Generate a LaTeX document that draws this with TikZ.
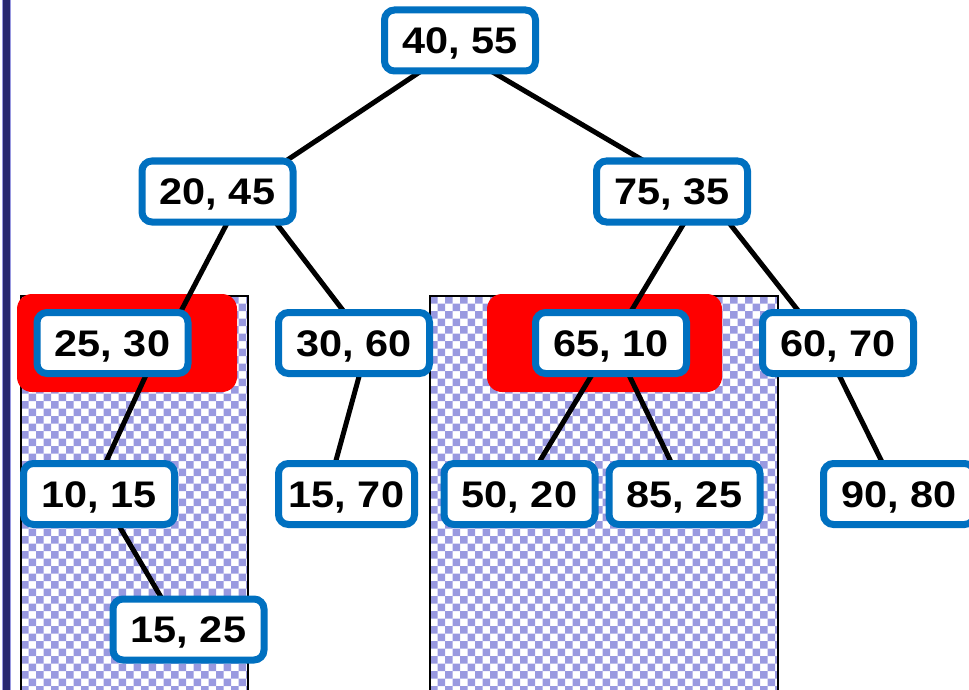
\documentclass[tikz,border=0pt]{standalone}
\usepackage{fontspec}
\newfontfamily\nodefont[FakeStretch=1.12]{Liberation Sans}
\definecolor{boxblue}{RGB}{0,112,192}
\definecolor{lav}{RGB}{153,153,224}
\definecolor{navy}{RGB}{40,40,112}
\pgfdeclarelayer{bg}
\pgfdeclarelayer{edgelayer}
\pgfsetlayers{bg,edgelayer,main}
\tikzset{
  kd/.style={draw=boxblue, line width=7, fill=white, rounded corners=10,
    minimum width=151, minimum height=61, inner sep=0,
    font=\nodefont\bfseries\fontsize{37}{42}\selectfont, text height=26.5, text depth=0},
  edge/.style={line width=5, black},
  hl/.style={fill=red, rounded corners=15},
  region/.style={draw=black, line width=1.8}
}
\begin{document}
\begin{tikzpicture}[x=1pt,y=-1pt]
\useasboundingbox (0,0) rectangle (969,690);
% left bar
\fill[navy, draw=lav, line width=1] (2.5,-5) rectangle (10,700);
% nodes
\node[kd] (n4055) at (460,40.5) {40, 55};
\node[kd] (n2045) at (217.5,191.5) {20, 45};
\node[kd] (n7535) at (672,191.5) {75, 35};
\node[kd] (n2530) at (112.5,343) {25, 30};
\node[kd] (n3060) at (354,343) {30, 60};
\node[kd] (n6510) at (611,343) {65, 10};
\node[kd] (n6070) at (838,343) {60, 70};
\node[kd] (n1015) at (99,494) {10, 15};
\node[kd, minimum width=136] (n1570) at (346.5,494) {15, 70};
\node[kd] (n5020) at (519.5,494) {50, 20};
\node[kd] (n8525) at (684.5,494) {85, 25};
\node[kd] (n9080) at (899,494) {90, 80};
\node[kd] (n1525) at (188.5,629.5) {15, 25};
% checker regions and highlights
\begin{pgfonlayer}{bg}
  \begin{scope}
    \clip (21,296) rectangle (248,700);
    \foreach \j in {0,...,54} {
      \pgfmathsetmacro\off{mod(\j,2)*7.5}
      \fill[lav] \foreach \i in {0,...,16} {(21+\off+15*\i,296+7.5*\j) rectangle ++(7.5,7.5)};
    }
  \end{scope}
  \draw[region] (21,296) rectangle (248,700);
  \begin{scope}
    \clip (430,296) rectangle (778,700);
    \foreach \j in {0,...,54} {
      \pgfmathsetmacro\off{mod(\j,2)*7.5}
      \fill[lav] \foreach \i in {0,...,24} {(430+\off+15*\i,296+7.5*\j) rectangle ++(7.5,7.5)};
    }
  \end{scope}
  \draw[region] (430,296) rectangle (778,700);
  \fill[hl] (17,294) rectangle (237,392);
  \fill[hl] (487,294) rectangle (722,392);
\end{pgfonlayer}
% edges
\begin{pgfonlayer}{edgelayer}
  \draw[edge] ([shift={(-38,30)}]n4055.center) -- ([shift={(67.5,-30)}]n2045.center);
  \draw[edge] ([shift={(30,30)}]n4055.center) -- ([shift={(-27,-30)}]n7535.center);
  \draw[edge] ([shift={(10.5,30)}]n2045.center) -- ([shift={(67.5,-30)}]n2530.center);
  \draw[edge] ([shift={(57.5,30)}]n2045.center) -- ([shift={(-9,-30)}]n3060.center);
  \draw[edge] ([shift={(13,30)}]n7535.center) -- ([shift={(19,-30)}]n6510.center);
  \draw[edge] ([shift={(56,30)}]n7535.center) -- ([shift={(-38,-30)}]n6070.center);
  \draw[edge] ([shift={(34.5,30)}]n2530.center) -- ([shift={(6,-30)}]n1015.center);
  \draw[edge] ([shift={(6,30)}]n3060.center) -- ([shift={(-11.5,-30)}]n1570.center);
  \draw[edge] ([shift={(-18,30)}]n6510.center) -- ([shift={(18.5,-30)}]n5020.center);
  \draw[edge] ([shift={(17,30)}]n6510.center) -- ([shift={(-12.5,-30)}]n8525.center);
  \draw[edge] ([shift={(0,30)}]n6070.center) -- ([shift={(-16,-30)}]n9080.center);
  \draw[edge] ([shift={(19,30)}]n1015.center) -- ([shift={(-25.5,-29)}]n1525.center);
\end{pgfonlayer}
\end{tikzpicture}
\end{document}
